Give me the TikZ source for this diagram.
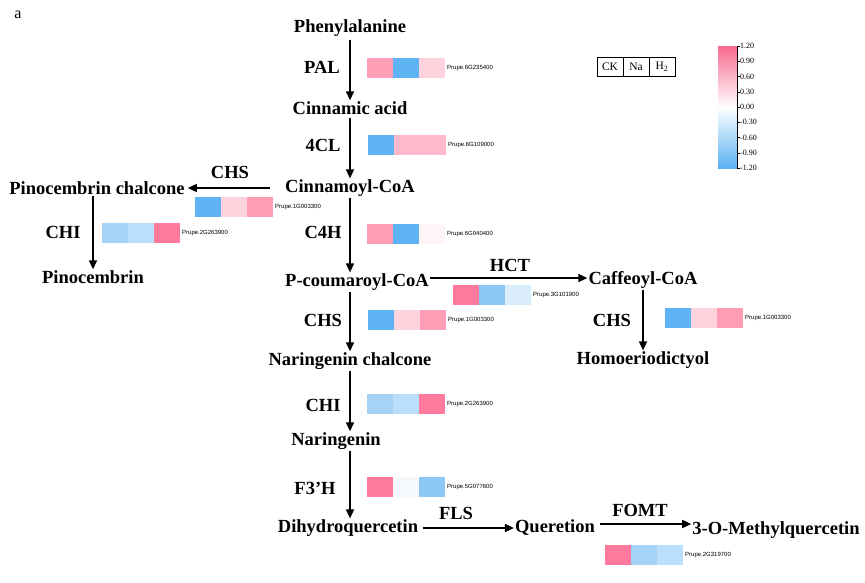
\documentclass[tikz,border=0pt]{standalone}
\usepackage{fontspec}
\setmainfont{Liberation Serif}
\newfontfamily\sansf{Liberation Sans}
\usetikzlibrary{arrows.meta}
\definecolor{pkA}{HTML}{FF7A9C}
\definecolor{pkB}{HTML}{FF9DB5}
\definecolor{pkC}{HTML}{FFD3DE}
\definecolor{pkD}{HTML}{FFB9CB}
\definecolor{blA}{HTML}{5EB3F5}
\definecolor{blB}{HTML}{8DC8F5}
\definecolor{blC}{HTML}{A5D3F7}
\definecolor{blD}{HTML}{BBDFFA}
\definecolor{blE}{HTML}{D9EDFB}
\definecolor{whA}{HTML}{FFF4F6}
\definecolor{whB}{HTML}{F4F9FE}
\definecolor{cbTop}{HTML}{F7698F}
\definecolor{cbBot}{HTML}{5AB2F2}
\newcommand{\heatrow}[7]{%
  \fill[#3] (#1,#2) rectangle ++(26,20);
  \fill[#4] (#1+26,#2) rectangle ++(26,20);
  \fill[#5] (#1+52,#2) rectangle ++(26,20);
  \node[gene] (#7) at (#1+79,#2+10) {#6};}
\begin{document}
\begin{tikzpicture}[x=1pt,y=-1pt,
  met/.style={font=\bfseries\fontsize{18.5}{22}\selectfont, inner sep=1pt},
  enz/.style={font=\bfseries\fontsize{18.5}{22}\selectfont, inner sep=1pt},
  gene/.style={font=\sansf\fontsize{6}{7}\selectfont, anchor=west, inner sep=1pt},
  arr/.style={-{Triangle[length=9pt,width=8pt]}, line width=1.5pt},
  legcell/.style={draw, line width=0.6pt, minimum width=26pt, minimum height=19pt, inner sep=0pt, font=\fontsize{11.5}{13}\selectfont},
  cblab/.style={font=\fontsize{8}{9}\selectfont, anchor=west, inner sep=0.5pt}]
\useasboundingbox (0,0) rectangle (865,582);
\node[font=\fontsize{16}{18}\selectfont, inner sep=0pt] (panel) at (18,15) {a};
% metabolites
\node[met] (phe) at (350,28) {Phenylalanine};
\node[met] (cin) at (350,108) {Cinnamic acid};
\node[met] (cco) at (350,188) {Cinnamoyl-CoA};
\node[met] (pch) at (97,188) {Pinocembrin chalcone};
\node[met] (pin) at (93,277) {Pinocembrin};
\node[met] (pco) at (357,282) {P-coumaroyl-CoA};
\node[met] (caf) at (643,280) {Caffeoyl-CoA};
\node[met] (hom) at (643,360) {Homoeriodictyol};
\node[met] (nch) at (350,361) {Naringenin chalcone};
\node[met] (nar) at (336,441) {Naringenin};
\node[met] (dhq) at (348,528) {Dihydroquercetin};
\node[met] (que) at (555,528) {Queretion};
\node[met] (meq) at (776,530) {3-O-Methylquercetin};
% arrows
\draw[arr, shorten <=2pt] (phe.south) -- (cin.north);
\draw[arr, shorten <=2pt] (cin.south) -- (cco.north);
\draw[arr, shorten <=14pt, shorten >=2pt] (cco.west) -- (pch.east);
\draw[arr] (pch.south -| pin) -- (pin.north);
\draw[arr] (cco.south) -- (cco.south |- pco.north);
\draw[arr] ([yshift=4pt]pco.east) -- ([yshift=4pt]pco.east -| caf.west);
\draw[arr] (caf.south) -- (hom.north);
\draw[arr] (pco.south -| nch) -- (nch.north);
\draw[arr] (nch.south) -- (nch.south |- nar.north);
\draw[arr] (nch.south |- nar.south) -- (nch.south |- dhq.north);
\draw[arr, shorten <=4pt] (dhq.east) -- (que.west);
\draw[arr, shorten <=4pt] ([yshift=4pt]que.east) -- ([yshift=4pt]que.east -| meq.west);
% enzymes
\node[enz] (pal) at (322,67) {PAL};
\node[enz] (fcl) at (323,145) {4CL};
\node[enz] (chsA) at (230,172) {CHS};
\node[enz] (chiA) at (63,232) {CHI};
\node[enz] (cfh) at (323,232) {C4H};
\node[enz] (hct) at (510,265) {HCT};
\node[enz] (chsB) at (612,320) {CHS};
\node[enz] (chsC) at (323,320) {CHS};
\node[enz] (chiB) at (323,405) {CHI};
\node[enz] (fth) at (315,488) {F3’H};
\node[enz] (fls) at (456,513) {FLS};
\node[enz] (fomt) at (640,510) {FOMT};
% heatmaps
\heatrow{367}{58}{pkB}{blA}{pkC}{Prupe.6G235400}{gPAL}
\heatrow{368}{135}{blA}{pkD}{pkD}{Prupe.6G109000}{gFCL}
\heatrow{195}{197}{blA}{pkC}{pkB}{Prupe.1G003300}{gCHSA}
\heatrow{102}{223}{blC}{blD}{pkA}{Prupe.2G263900}{gCHIA}
\heatrow{367}{224}{pkB}{blA}{whA}{Prupe.6G040400}{gCFH}
\heatrow{453}{285}{pkA}{blB}{blE}{Prupe.3G101900}{gHCT}
\heatrow{665}{308}{blA}{pkC}{pkB}{Prupe.1G003300}{gCHSB}
\heatrow{368}{310}{blA}{pkC}{pkB}{Prupe.1G003300}{gCHSC}
\heatrow{367}{394}{blC}{blD}{pkA}{Prupe.2G263900}{gCHIB}
\heatrow{367}{477}{pkA}{whB}{blB}{Prupe.5G077600}{gFTH}
\heatrow{605}{545}{pkA}{blC}{blD}{Prupe.2G319700}{gFOMT}
% legend
\node[legcell] (ck) at (610,67) {CK};
\node[legcell] (na) at (636,67) {Na};
\node[legcell] (hh) at (662,67) {H\textsubscript{2}};
% colour bar
\shade[top color=cbTop, bottom color=cbBot, middle color=white] (718,46) rectangle (737,168);
\draw[line width=0.5pt] (737,46) -- (737,168);
\foreach \v [count=\i from 0] in {1.20,0.90,0.60,0.30,0.00,-0.30,-0.60,-0.90,-1.20} {
  \draw[line width=0.5pt] (737,46+\i*15.25) -- (739.5,46+\i*15.25);
  \node[cblab] (cb\i) at (739.5,46+\i*15.25) {\v};
}
\end{tikzpicture}
\end{document}
